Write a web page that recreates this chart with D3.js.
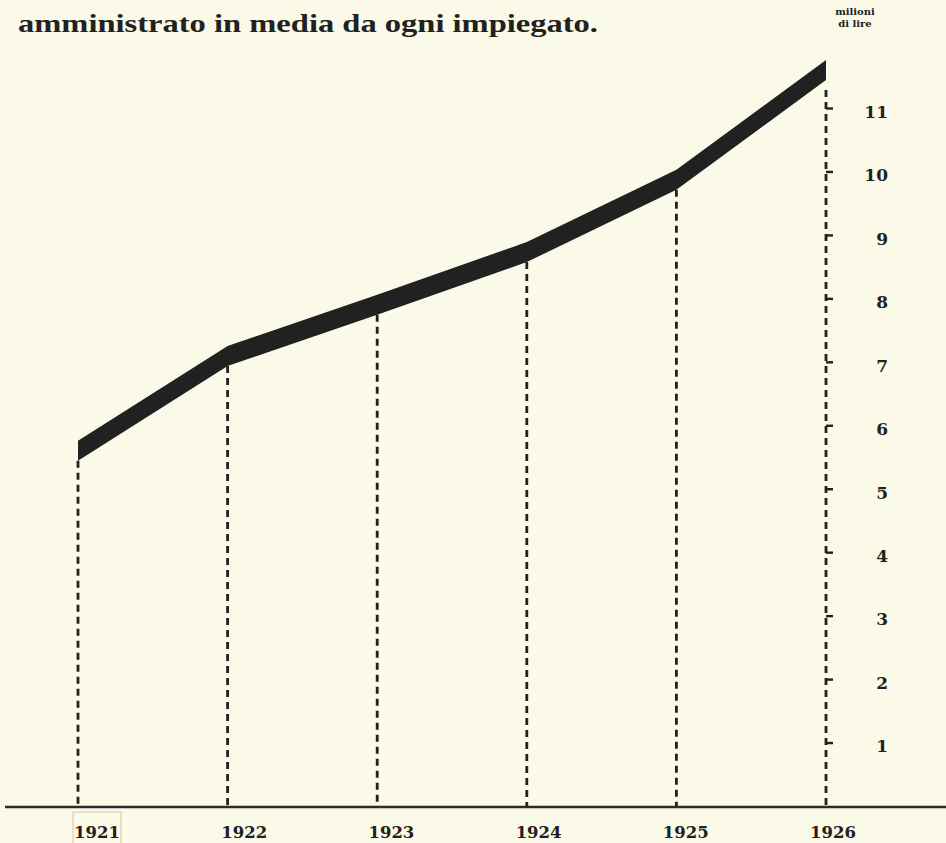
<!DOCTYPE html>
<html>
<head>
<meta charset="utf-8">
<script src="https://cdn.jsdelivr.net/npm/d3@7"></script>
<style>
  body { margin: 0; background: #fbf9e7; }
  svg { display: block; }
</style>
</head>
<body>
<div id="chart"></div>
<script>
var years = [1921, 1922, 1923, 1924, 1925, 1926];
var values = [5.6, 7.09, 7.9, 8.73, 9.87, 11.6];
var tickValues = [1, 2, 3, 4, 5, 6, 7, 8, 9, 10, 11];
var titleText = "amministrato in media da ogni impiegato.";
var unitLines = ["milioni", "di lire"];

var ink = "#1f2220";
var width = 946, height = 843;
var baseY = 807;
var band = 20;

var svg = d3.select("#chart").append("svg")
    .attr("width", width)
    .attr("height", height);

svg.append("rect")
    .attr("width", width).attr("height", height)
    .attr("fill", "#fbf9e7");

var x = d3.scaleLinear().domain([1921, 1926]).range([78, 826]);
// year labels sit a little to the right of their dashed lines
var xLabel = d3.scaleLinear().domain([1921, 1926]).range([97, 833]);
var y = d3.scaleLinear().domain([0, 11]).range([806, 108]);

var data = years.map(function (yr, i) {
    return {year: yr, value: values[i]};
});

// title
svg.append("text")
    .attr("x", 18)
    .attr("y", 32)
    .attr("textLength", 580)
    .attr("lengthAdjust", "spacingAndGlyphs")
    .style("font-family", "'Liberation Serif', serif")
    .style("font-weight", "bold")
    .style("font-size", "26px")
    .attr("fill", ink)
    .text(titleText);

// unit
svg.selectAll(".unit")
    .data(unitLines)
    .enter().append("text")
    .attr("class", "unit")
    .attr("x", 855)
    .attr("y", function (d, i) { return 15 + i * 12; })
    .attr("text-anchor", "middle")
    .style("font-family", "'DejaVu Serif', serif")
    .style("font-weight", "bold")
    .style("font-size", "10px")
    .attr("fill", ink)
    .text(function (d) { return d; });

// dashed drop lines
svg.selectAll(".drop")
    .data(data)
    .enter().append("line")
    .attr("class", "drop")
    .attr("x1", function (d) { return x(d.year); })
    .attr("x2", function (d) { return x(d.year); })
    .attr("y1", function (d, i) { return i === data.length - 1 ? y(d.value) + band / 2 + 10 : y(d.value) + band / 2; })
    .attr("y2", baseY)
    .attr("stroke", ink)
    .attr("stroke-width", 2.8)
    .attr("stroke-dasharray", "7,5");

// right axis ticks and labels
var axisG = svg.append("g")
    .attr("transform", "translate(" + x(1926) + ",0)")
    .call(d3.axisRight(y).tickValues(tickValues).tickSize(7).tickPadding(0));
axisG.select(".domain").remove();
axisG.selectAll(".tick line")
    .attr("stroke", ink)
    .attr("stroke-width", 2.4);
axisG.selectAll(".tick text")
    .attr("x", 62)
    .attr("dy", "0.55em")
    .attr("text-anchor", "end")
    .style("font-family", "'DejaVu Serif', serif")
    .style("font-weight", "bold")
    .style("font-size", "17px")
    .attr("fill", ink);

// baseline
svg.append("line")
    .attr("x1", 5).attr("x2", width)
    .attr("y1", baseY).attr("y2", baseY)
    .attr("stroke", "#2a2a28")
    .attr("stroke-width", 2.4);

// the thick band
var area = d3.area()
    .x(function (d) { return x(d.year); })
    .y0(function (d) { return y(d.value) + band / 2; })
    .y1(function (d) { return y(d.value) - band / 2; });

svg.append("path")
    .datum(data)
    .attr("d", area)
    .attr("fill", ink);

// faint box around first year label
svg.append("rect")
    .attr("x", xLabel(1921) - 24)
    .attr("y", 812)
    .attr("width", 48)
    .attr("height", 35)
    .attr("fill", "none")
    .attr("stroke", "#d9cfae")
    .attr("stroke-width", 1.2);

// year labels
svg.selectAll(".yr")
    .data(data)
    .enter().append("text")
    .attr("class", "yr")
    .attr("x", function (d) { return xLabel(d.year); })
    .attr("y", 838)
    .attr("text-anchor", "middle")
    .style("font-family", "'DejaVu Serif', serif")
    .style("font-weight", "bold")
    .style("font-size", "16.5px")
    .attr("fill", ink)
    .text(function (d) { return d.year; });
</script>
</body>
</html>
